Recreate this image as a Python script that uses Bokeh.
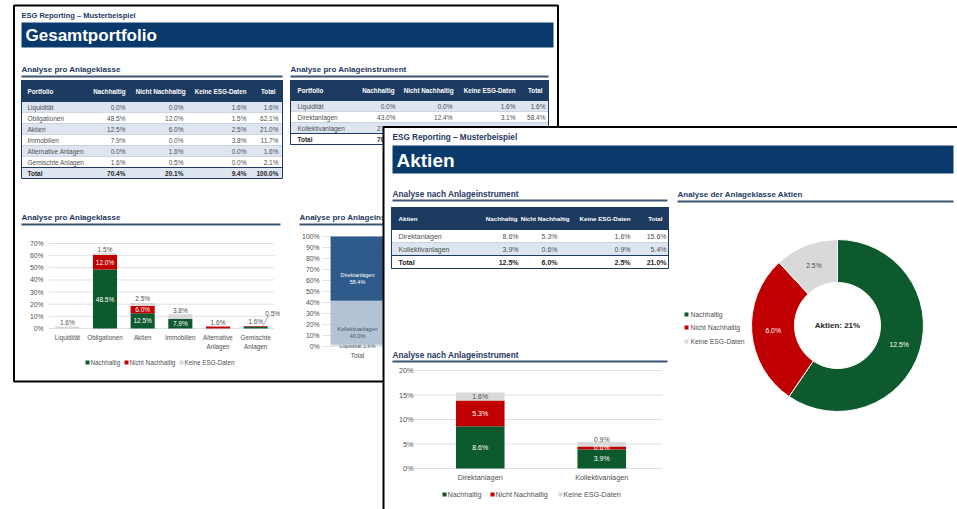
import math
from bokeh.plotting import figure
from bokeh.models import Range1d
from bokeh.core.properties import value
from bokeh.embed import file_html
from bokeh.resources import INLINE

# ---------------- data ----------------
series = ["Nachhaltig", "Nicht Nachhaltig", "Keine ESG-Daten"]
table_headers = ["Nachhaltig", "Nicht Nachhaltig", "Keine ESG-Daten", "Total"]

classes = ["Liquidität", "Obligationen", "Aktien", "Immobilien", "Alternative Anlagen", "Gemischte Anlagen"]
class_n = [0.0, 48.5, 12.5, 7.9, 0.0, 1.6]
class_nn = [0.0, 12.0, 6.0, 0.0, 1.6, 0.5]
class_k = [1.6, 1.5, 2.5, 3.8, 0.0, 0.0]
class_total = [1.6, 62.1, 21.0, 11.7, 1.6, 2.1]
portfolio_total = [70.4, 20.1, 9.4, 100.0]
class_ticks = [0, 10, 20, 30, 40, 50, 60, 70]

instruments = ["Liquidität", "Direktanlagen", "Kollektivanlagen"]
instr_n = [0.0, 43.0, 27.4]
instr_nn = [0.0, 12.4, 7.7]
instr_k = [1.6, 3.1, 4.7]
instr_total = [1.6, 58.4, 40.0]
share_ticks = [0, 10, 20, 30, 40, 50, 60, 70, 80, 90, 100]

aktien_instr = ["Direktanlagen", "Kollektivanlagen"]
akt_n = [8.6, 3.9]
akt_nn = [5.3, 0.6]
akt_k = [1.6, 0.9]
akt_total = [15.6, 5.4]
akt_sum = [12.5, 6.0, 2.5, 21.0]
akt_ticks = [0, 5, 10, 15, 20]
donut_center = "Aktien: 21%"

page_header = "ESG Reporting – Musterbeispiel"
# ---------------- style ----------------
FONT = value("Liberation Sans")
NAVY = "#0a3a6b"
HEAD = "#1d3b61"
ROW_BLUE = "#dce5f0"
ROW_LINE = "#c3cddb"
TITLE = "#1f3864"
ULINE = "#3a5675"
GREEN = "#0e5a2f"
RED = "#c00000"
LGREY = "#d9d9d9"
GRID = "#d9d9d9"
TXT = "#505050"
DIREKT = "#2f5b8b"
KOLLEKT = "#b4c2d5"
LIQ = "#e3e8ef"

W, H = 957, 509
p = figure(width=W, height=H, x_range=Range1d(0, W), y_range=Range1d(H, 0),
           output_backend="svg", toolbar_location=None, min_border=0,
           x_axis_location=None, y_axis_location=None,
           background_fill_color="white", border_fill_color="white", outline_line_color=None)
p.grid.visible = False


def txt(api, x, y, t, size=6.5, color=TXT, align="left", bold=False, baseline="middle", x_offset=0):
    if not isinstance(x, list):
        x, y, t = [x], [y], [t]
    api.text(x=x, y=y, text=t, text_font=FONT, text_font_size=f"{size}px", text_color=color,
             text_align=align, text_baseline=baseline, x_offset=x_offset,
             text_font_style="bold" if bold else "normal")


def section(x0, x1, y, title, size=8):
    txt(p, x0, y, title, size=size, color=TITLE, bold=True)
    p.segment(x0=[x0], x1=[x1], y0=[y + 7], y1=[y + 7], line_color=ULINE, line_width=2)


def fmt(v):
    return f"{v:.1f}%"


def draw_table(x0, x1, top, head_h, row_h, first_x, head_rights, val_rights, first_header,
               labels, cols, zebra_start, fs, hfs):
    n = len(labels)
    tops = [top + head_h + i * row_h for i in range(n)]
    bots = [t + row_h for t in tops]
    mids = [t + row_h / 2 for t in tops]
    fills = [ROW_BLUE if (i % 2 == zebra_start) else "white" for i in range(n)]
    p.quad(left=[x0] * n, right=[x1] * n, top=tops, bottom=bots, fill_color=fills,
           line_color=ROW_LINE, line_width=0.7)
    p.quad(left=[x0], right=[x1], top=[top], bottom=[top + head_h], fill_color=HEAD, line_color=HEAD)
    hy = top + head_h / 2
    txt(p, first_x, hy, first_header, size=hfs, color="white", bold=True)
    txt(p, head_rights, [hy] * len(head_rights), table_headers, size=hfs, color="white", bold=True, align="right")
    txt(p, [first_x] * (n - 1), mids[:-1], labels[:-1], size=fs, color=TXT)
    txt(p, first_x, mids[-1], labels[-1], size=fs, color="#262626", bold=True)
    for j, col in enumerate(cols):
        txt(p, [val_rights[j]] * (n - 1), mids[:-1], [fmt(v) for v in col[:-1]], size=fs, color=TXT, align="right")
        txt(p, val_rights[j], mids[-1], fmt(col[-1]), size=fs, color="#262626", bold=True, align="right")
    p.segment(x0=[x0], x1=[x1], y0=[tops[-1]], y1=[tops[-1]], line_color=HEAD, line_width=1)
    p.quad(left=[x0], right=[x1], top=[top], bottom=[bots[-1]], fill_color=None, line_color=HEAD, line_width=1)


def legend(xs, y, colors, size=6.5, sq=4):
    p.scatter(x=[x for x in xs], y=[y] * len(xs), marker="square", size=sq, fill_color=colors, line_color=None)
    txt(p, [x + 3 for x in xs], [y] * len(xs), series, size=size, color=TXT)


# ================= PAGE 1 =================
p.quad(left=[13.5], right=[557.5], top=[5], bottom=[381], fill_color="white", line_color="black", line_width=2)
txt(p, 21, 15, page_header, size=7.5, color=TITLE, bold=True)
p.quad(left=[21], right=[553], top=[22], bottom=[47], fill_color=NAVY, line_color=None)
txt(p, 25, 35, "Gesamtportfolio", size=17, color="white", bold=True)

# table 1
section(21, 282, 69, "Analyse pro Anlageklasse")
draw_table(21, 282, 80, 21, 11, 27, [125, 185, 246, 275], [125, 183, 246, 278], "Portfolio",
           classes + ["Total"],
           [class_n + [portfolio_total[0]], class_nn + [portfolio_total[1]],
            class_k + [portfolio_total[2]], class_total + [portfolio_total[3]]], 0, 6.5, 6.3)

# table 2
section(290, 548, 69, "Analyse pro Anlageinstrument")
draw_table(290, 548, 80, 20, 11, 297, [394, 453, 515, 542], [395, 452, 515, 545], "Portfolio",
           instruments + ["Total"],
           [instr_n + [portfolio_total[0]], instr_nn + [portfolio_total[1]],
            instr_k + [portfolio_total[2]], instr_total + [portfolio_total[3]]], 0, 6.5, 6.3)

# chart 1: stacked bars per asset class
section(21, 280, 217, "Analyse pro Anlageklasse")
n1 = len(classes)
c1 = p.subplot(x_source=Range1d(-0.5, n1 - 0.5), y_source=Range1d(0, 70),
               x_target=Range1d(48, 274), y_target=Range1d(328, 243))
pxu1 = (328 - 243) / 70.0
c1.segment(x0=[-0.5] * len(class_ticks), x1=[n1 - 0.5] * len(class_ticks), y0=class_ticks, y1=class_ticks,
           line_color=GRID, line_width=0.8)
txt(c1, [-0.5] * len(class_ticks), class_ticks, [f"{t}%" for t in class_ticks], size=6.8, align="right", x_offset=-5)
idx1 = list(range(n1))
s1 = class_n
s2 = [a + b for a, b in zip(class_n, class_nn)]
s3 = [a + b + c for a, b, c in zip(class_n, class_nn, class_k)]
bw1 = 0.64
c1.vbar(x=idx1, bottom=[0] * n1, top=s1, width=bw1, fill_color=GREEN, line_color=None)
c1.vbar(x=idx1, bottom=s1, top=s2, width=bw1, fill_color=RED, line_color=None)
c1.vbar(x=idx1, bottom=s2, top=s3, width=bw1, fill_color=LGREY, line_color=None)
in_x, in_y, in_t = [], [], []
out_x, out_y, out_t = [], [], []
lead = []
for i in idx1:
    segs = [(0, class_n[i]), (s1[i], class_nn[i]), (s2[i], class_k[i])]
    small = 0
    for b, v in segs:
        if v <= 0:
            continue
        if v >= 5:
            in_x.append(i); in_y.append(b + v / 2); in_t.append(fmt(v))
        else:
            if small == 0:
                out_x.append(i); out_y.append(s3[i] + 3.4); out_t.append(fmt(v))
            else:
                out_x.append(i + 0.45); out_y.append(s3[i] + 10.3); out_t.append(fmt(v))
                lead.append((i + 0.33, s3[i] + 8.2, i + 0.2, s3[i] + 0.4))
            small += 1
txt(c1, in_x, in_y, in_t, size=6.5, color="white", align="center")
txt(c1, out_x, out_y, out_t, size=6.5, color=TXT, align="center")
if lead:
    c1.segment(x0=[l[0] for l in lead], y0=[l[1] for l in lead], x1=[l[2] for l in lead], y1=[l[3] for l in lead],
               line_color="#7f7f7f", line_width=0.7)
lab1 = [c.split(" ") if " " in c else [c] for c in classes]
txt(c1, idx1, [-9 / pxu1] * n1, [l[0] for l in lab1], size=6.3, color=TXT, align="center")
two = [i for i in idx1 if len(lab1[i]) > 1]
txt(c1, two, [-18 / pxu1] * len(two), [lab1[i][1] for i in two], size=6.3, color=TXT, align="center")
legend([87, 126, 181], 362, [GREEN, RED, LGREY], size=6.3)

# chart 2: 100% stacked per instrument
section(299, 548, 217, "Analyse pro Anlageinstrument")
c2 = p.subplot(x_source=Range1d(-0.5, 0.5), y_source=Range1d(0, 100),
               x_target=Range1d(322, 392), y_target=Range1d(346, 236))
pxu2 = (346 - 236) / 100.0
c2.segment(x0=[-0.5] * len(share_ticks), x1=[0.5] * len(share_ticks), y0=share_ticks, y1=share_ticks,
           line_color=GRID, line_width=0.8)
txt(c2, [-0.5] * len(share_ticks), share_ticks, [f"{t}%" for t in share_ticks], size=6.8, align="right", x_offset=-3)
order = [0, 2, 1]
cols2 = {0: LIQ, 1: DIREKT, 2: KOLLEKT}
base = 0.0
for k in order:
    c2.vbar(x=[0], bottom=[base], top=[base + instr_total[k]], width=0.77, fill_color=cols2[k], line_color=None)
    mid = base + instr_total[k] / 2
    if instr_total[k] >= 10:
        col = "white" if k == 1 else "#44546a"
        txt(c2, [0, 0], [mid - 6, mid - 12], [instruments[k], fmt(instr_total[k])], size=5.5, color=col, align="center")
    else:
        txt(c2, 0, mid, f"{instruments[k]} {fmt(instr_total[k])}", size=5.5, color="#44546a", align="center")
    base += instr_total[k]
txt(c2, 0, -9 / pxu2, "Total", size=6.3, color=TXT, align="center")

# ================= PAGE 2 =================
p.quad(left=[383], right=[975], top=[126.5], bottom=[530], fill_color="white", line_color="black", line_width=2)
txt(p, 392, 137, page_header, size=8.2, color=TITLE, bold=True)
p.quad(left=[392], right=[953], top=[145], bottom=[173], fill_color=NAVY, line_color=None)
txt(p, 396, 159.5, "Aktien", size=19, color="white", bold=True)

section(392, 667, 193, "Analyse nach Anlageinstrument", size=8.3)
draw_table(391, 668, 207, 22, 13, 398, [517, 569, 630, 662], [518, 557, 630, 666], "Aktien",
           aktien_instr + ["Total"],
           [akt_n + [akt_sum[0]], akt_nn + [akt_sum[1]], akt_k + [akt_sum[2]], akt_total + [akt_sum[3]]], 1, 7, 6.2)

# chart 3: stacked bars Aktien per instrument
section(392, 667, 354, "Analyse nach Anlageinstrument", size=8.3)
n3 = len(aktien_instr)
c3 = p.subplot(x_source=Range1d(-0.5, n3 - 0.5), y_source=Range1d(0, 20),
               x_target=Range1d(419, 662), y_target=Range1d(468, 370))
pxu3 = (468 - 370) / 20.0
c3.segment(x0=[-0.55] * len(akt_ticks), x1=[n3 - 0.5] * len(akt_ticks), y0=akt_ticks, y1=akt_ticks,
           line_color=GRID, line_width=0.8)
txt(c3, [-0.5] * len(akt_ticks), akt_ticks, [f"{t}%" for t in akt_ticks], size=7.3, align="right", x_offset=-6)
idx3 = list(range(n3))
t1 = akt_n
t2 = [a + b for a, b in zip(akt_n, akt_nn)]
t3 = [a + b + c for a, b, c in zip(akt_n, akt_nn, akt_k)]
bw3 = 0.4
c3.vbar(x=idx3, bottom=[0] * n3, top=t1, width=bw3, fill_color=GREEN, line_color=None)
c3.vbar(x=idx3, bottom=t1, top=t2, width=bw3, fill_color=RED, line_color=None)
c3.vbar(x=idx3, bottom=t2, top=t3, width=bw3, fill_color=LGREY, line_color=None)
txt(c3, idx3, [v / 2 for v in akt_n], [fmt(v) for v in akt_n], size=7, color="white", align="center")
txt(c3, idx3, [a + b / 2 for a, b in zip(t1, akt_nn)], [fmt(v) for v in akt_nn], size=7, color="white", align="center")
txt(c3, idx3, [(a + b / 2) if b >= 1.5 else (a + b + 0.6) for a, b in zip(t2, akt_k)],
    [fmt(v) for v in akt_k], size=7, color=TXT, align="center")
txt(c3, idx3, [-9 / pxu3] * n3, aktien_instr, size=7.3, color=TXT, align="center")
legend([444, 492, 560], 494, [GREEN, RED, LGREY], size=7.2)

# donut
section(677, 953, 194, "Analyse der Anlageklasse Aktien", size=8)
cx, cy, r_in, r_out = 837, 325, 43, 86
vals = akt_sum[:3]
tot = sum(vals)
starts, ends, cum = [], [], 0.0
for v in vals:
    starts.append(math.pi / 2 - 2 * math.pi * cum / tot)
    cum += v
    ends.append(math.pi / 2 - 2 * math.pi * cum / tot)
p.annular_wedge(x=[cx] * 3, y=[cy] * 3, inner_radius=r_in, outer_radius=r_out,
                inner_radius_units="screen", outer_radius_units="screen",
                start_angle=starts, end_angle=ends, direction="clock",
                fill_color=[GREEN, RED, LGREY], line_color="white", line_width=1)
rm = (r_in + r_out) / 2
mids = [(s + e) / 2 for s, e in zip(starts, ends)]
txt(p, [cx + rm * math.cos(m) for m in mids], [cy - rm * math.sin(m) for m in mids],
    [fmt(v) for v in vals], size=6.8, color=["white", "white", TXT], align="center")
txt(p, cx, cy, donut_center, size=8, color="#262626", bold=True, align="center")
p.scatter(x=[686] * 3, y=[314, 327, 341], marker="square", size=4, fill_color=[GREEN, RED, LGREY], line_color=None)
txt(p, [690] * 3, [314, 327, 341], series, size=6.8, color=TXT)

open("out.html", "w").write(file_html(p, INLINE))
